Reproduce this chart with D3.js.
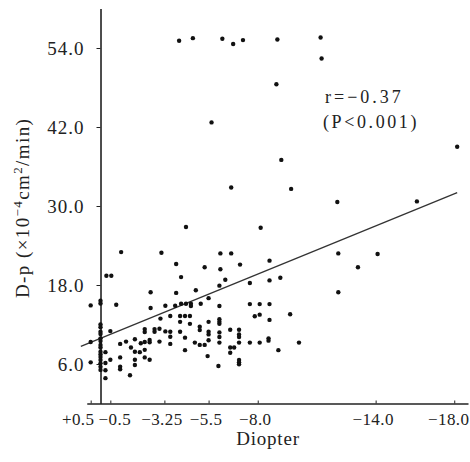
<!DOCTYPE html>
<html lang="ja">
<head>
<meta charset="UTF-8">
<title>D-p vs Diopter</title>
<script src="https://cdn.jsdelivr.net/npm/d3@7"></script>
<style>
    body { margin: 0; background: #fff; }
    text { font-family: "Liberation Serif", "DejaVu Serif", serif; fill: #222; }
    .axis path, .axis line { stroke: #222; }
</style>
</head>
<body>
<div id="chart"></div>
<script>
// x = diopter (refraction), y = D-p (x10^-4 cm2/min)
const diopterTicks = [0.5, -0.5, -3.25, -5.5, -8, -14, -18];
const diopterTickLabels = ["+0.5", "−0.5", "−3.25", "−5.5", "−8.0", "−14.0", "−18.0"];
const dpTicks = [6, 18, 30, 42, 54];
const dpTickLabels = ["6.0", "18.0", "30.0", "42.0", "54.0"];

// regression line: Dp = intercept + slope * diopter
const fitIntercept = 9.9;
const fitSlope = -1.22;
const fitRange = [1.0, -18.15];

// [diopter, D-p]
const points = [
    [-4.0, 55.1], [-4.7, 55.5], [-6.2, 55.4], [-6.75, 54.6], [-7.25, 55.2], [-9.0, 55.3],
    [-11.2, 55.6], [-11.25, 52.4], [-8.95, 48.5], [-5.65, 42.7], [-18.15, 39.0], [-9.2, 37.0],
    [-6.65, 32.8], [-9.7, 32.6], [-12.05, 30.6], [-16.1, 30.7], [-4.35, 26.8], [-8.15, 26.7],
    [-1.05, 23.0], [-3.1, 22.9], [-6.1, 22.8], [-6.65, 22.8], [-12.1, 22.8], [-14.1, 22.7],
    [-3.85, 21.2], [-5.3, 20.7], [-6.1, 20.4], [-7.1, 21.1], [-8.6, 21.7], [-13.1, 20.7],
    [-0.3, 19.4], [-0.55, 19.4], [-4.1, 19.2], [-6.35, 18.8], [-8.6, 18.7], [-9.15, 19.1],
    [-7.6, 18.3], [-6.05, 17.9], [-4.85, 17.2], [-2.55, 16.9], [-3.85, 16.8], [-12.1, 16.9],
    [-5.5, 16.0], [0.5, 14.9], [0, 15.6], [0, 15.2], [-0.8, 15.0], [-2.55, 14.5],
    [-3.3, 14.85], [-3.8, 14.85], [-4.1, 15.15], [-4.35, 15.15], [-4.6, 15.15], [-4.6, 14.8],
    [-5.1, 15.15], [-6.05, 14.8], [-7.6, 15.1], [-8.1, 15.1], [-8.6, 15.1],
    [-3.55, 13.3], [-4.05, 13.3], [-4.3, 13.3], [-4.55, 13.3], [-3.05, 12.9], [-4.05, 12.4],
    [-4.55, 12.1], [-5.5, 12.4], [-7.85, 13.25], [-8.1, 13.5], [-8.6, 12.7], [-9.65, 13.55],
    [-6.05, 12.8], [-6.05, 12.4], [-6.05, 12.1], [0, 12.0], [0, 11.6], [0, 10.9], [0, 10.55],
    [-0.5, 11.0], [-2.25, 11.3], [-2.25, 10.85], [-2.75, 11.3], [-2.75, 10.9], [-3.0, 11.35],
    [-3.3, 10.95], [-3.55, 10.9], [-3.55, 10.15], [-4.05, 10.9], [-5.05, 11.65], [-5.05, 11.15],
    [-5.5, 10.9], [-5.5, 10.5], [-4.3, 10.0], [-6.6, 11.2], [-7.05, 11.2], [-7.05, 10.5],
    [-7.05, 10.1], [-6.05, 10.8], [-6.05, 10.1], [0, 9.9], [0, 9.5], [0.5, 9.35],
    [-1.0, 9.05], [-1.3, 9.4], [-1.75, 9.75], [-2.05, 9.15], [-2.25, 9.35], [-2.5, 9.65],
    [-2.5, 9.3], [-3.0, 9.4], [-3.55, 9.05], [-4.8, 9.25], [-5.05, 8.9], [-5.3, 8.9],
    [-5.5, 9.6], [-6.05, 9.25], [-7.05, 9.25], [-7.6, 9.25], [-8.1, 9.25], [-8.55, 9.9],
    [-8.55, 9.55], [-10.1, 9.25], [-1.55, 8.5], [-1.75, 7.85], [-2.0, 7.8], [-2.25, 8.15],
    [-4.3, 8.1], [0, 8.9], [0, 8.5], [0, 7.85], [0, 7.45], [0, 7.05], [0, 6.6],
    [-0.25, 7.8], [0.5, 6.25], [-0.5, 6.65], [-1.0, 7.0], [-1.75, 6.65], [-2.25, 7.0],
    [-2.5, 6.65], [-5.45, 7.2], [-6.6, 8.5], [-6.8, 8.5], [-6.6, 7.7], [-9.05, 8.1],
    [-7.05, 6.6], [-7.05, 6.25], [-7.05, 5.95], [-6.0, 5.7], [0, 6.1], [0, 5.6], [0, 5.1],
    [-0.25, 6.15], [-1.0, 5.6], [-1.0, 5.2], [-1.75, 5.85], [-0.25, 5.05], [-1.5, 4.3],
    [-0.25, 3.85]
];

const width = 470, height = 462;

const svg = d3.select("#chart").append("svg")
    .attr("width", width)
    .attr("height", height);

const x = d3.scaleLinear().domain([0.7, -18.7]).range([86.75, 468]);
const y = d3.scaleLinear().domain([0, 60]).range([403.5, 8.5]);

// x axis (ticks point up)
const xAxis = svg.append("g")
    .attr("class", "axis")
    .attr("transform", "translate(0," + y(0) + ")")
    .call(d3.axisBottom(x)
        .tickValues(diopterTicks)
        .tickFormat((d, i) => diopterTickLabels[i])
        .tickSizeInner(-3)
        .tickSizeOuter(0)
        .tickPadding(9));
xAxis.select(".domain").attr("stroke-width", 1.5);
xAxis.selectAll("text")
    .style("font-size", "17px")
    .style("letter-spacing", "0.4px")
    .attr("dx", (d, i) => i === 0 ? -13 : (i === 1 ? 4 : (i === diopterTicks.length - 1 ? -6 : -3)));

// y axis at diopter 0
const yAxis = svg.append("g")
    .attr("class", "axis")
    .attr("transform", "translate(" + x(0) + ",0)")
    .call(d3.axisLeft(y)
        .tickValues(dpTicks)
        .tickFormat((d, i) => dpTickLabels[i])
        .tickSize(4)
        .tickSizeOuter(0)
        .tickPadding(12));
yAxis.select(".domain").attr("stroke-width", 1.6);
yAxis.selectAll("text")
    .style("font-size", "19px")
    .style("letter-spacing", "1px");

// regression line
const fitLine = d3.line()
    .x(d => x(d))
    .y(d => y(fitIntercept + fitSlope * d));
svg.append("path")
    .datum(fitRange)
    .attr("d", fitLine)
    .attr("fill", "none")
    .attr("stroke", "#333")
    .attr("stroke-width", 1.3);

// points
svg.append("g")
    .selectAll("circle")
    .data(points)
    .join("circle")
    .attr("cx", d => x(d[0]))
    .attr("cy", d => y(d[1]))
    .attr("r", 2.2)
    .attr("fill", "#111");

// annotation
svg.append("text")
    .attr("x", 325).attr("y", 103)
    .style("font-size", "18px")
    .style("letter-spacing", "3px")
    .text("r=−0.37");
svg.append("text")
    .attr("x", 323).attr("y", 128)
    .style("font-size", "18px")
    .style("letter-spacing", "2.6px")
    .text("(P<0.001)");

// axis titles
svg.append("text")
    .attr("x", 268).attr("y", 445)
    .attr("text-anchor", "middle")
    .style("font-size", "19px")
    .style("letter-spacing", "0.8px")
    .text("Diopter");

const yTitle = svg.append("text")
    .attr("transform", "translate(29,298) rotate(-90)")
    .style("font-size", "19px")
    .style("letter-spacing", "1.4px");
yTitle.append("tspan").text("D-p (×10");
yTitle.append("tspan").attr("dy", -7).style("font-size", "13px").text("−4");
yTitle.append("tspan").attr("dy", 7).text("cm");
yTitle.append("tspan").attr("dy", -7).style("font-size", "13px").text("2");
yTitle.append("tspan").attr("dy", 7).text("/min)");
</script>
</body>
</html>
